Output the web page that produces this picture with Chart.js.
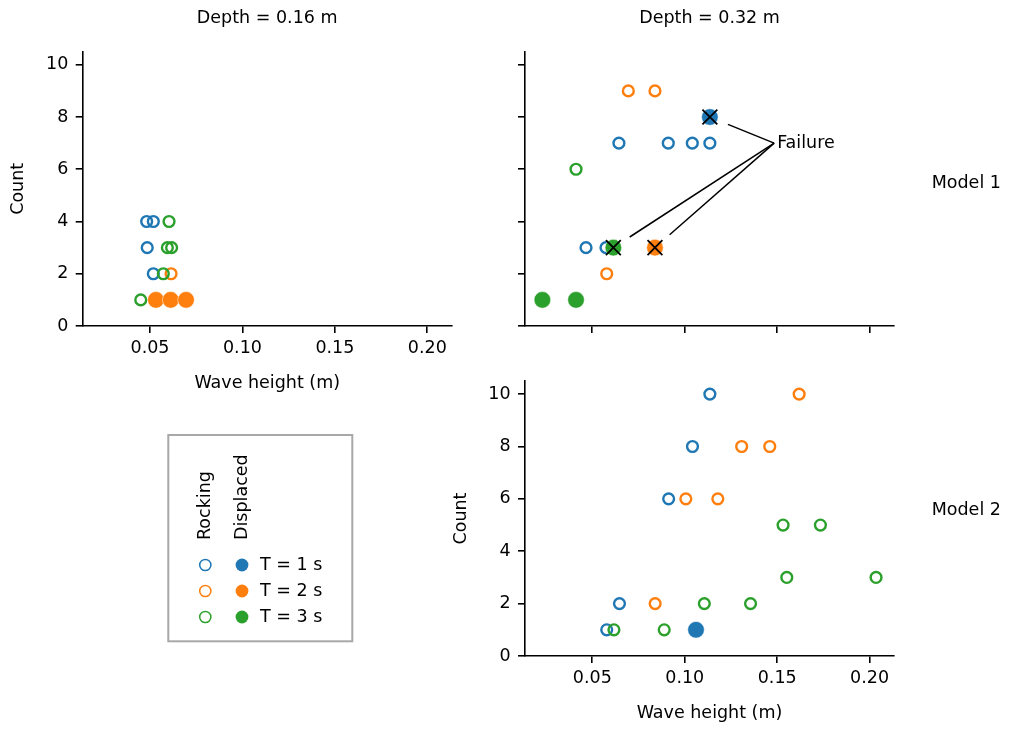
<!DOCTYPE html>
<html>
<head>
<meta charset="utf-8">
<title>Wave height vs count</title>
<script src="https://cdn.jsdelivr.net/npm/chart.js@4.4.1/dist/chart.umd.min.js"></script>
<style>
  body { margin: 0; background: #fff; }
  #fig { position: relative; width: 1011px; height: 729px; }
  #fig canvas { position: absolute; left: 0; top: 0; }
</style>
</head>
<body>
<div id="fig">
  <canvas id="m1d16" width="1011" height="729"></canvas>
  <canvas id="m1d32" width="1011" height="729"></canvas>
  <canvas id="m2d32" width="1011" height="729"></canvas>
</div>
<script>
// ---- data ----
const periods = ["T = 1 s", "T = 2 s", "T = 3 s"];
const colors = ["#1f77b4", "#ff7f0e", "#2ca02c"];
const xTicks = [0.05, 0.10, 0.15, 0.20];
const yTicks = [0, 2, 4, 6, 8, 10];
const xMin = 0.0136, xMax = 0.2132;
const yMin = 0, yMax = 10.5;

// Model 1, depth 0.16 m  (one inner array per period)
const m1d16RockX = [[0.0482, 0.0518, 0.0485, 0.0518], [0.0614], [0.0603, 0.0594, 0.0617, 0.0572, 0.0450]];
const m1d16RockY = [[4, 4, 3, 2], [2], [4, 3, 3, 2, 1]];
const m1d16DispX = [[], [0.0532, 0.0612, 0.0695], []];
const m1d16DispY = [[], [1, 1, 1], []];

// Model 1, depth 0.32 m
const m1d32RockX = [[0.0644, 0.0911, 0.1041, 0.1136, 0.0466, 0.0574], [0.0695, 0.0839, 0.0578], [0.0412]];
const m1d32RockY = [[7, 7, 7, 7, 3, 3], [9, 9, 2], [6]];
const m1d32DispX = [[0.1136], [0.0839], [0.0614, 0.0230, 0.0412]];
const m1d32DispY = [[8], [3], [3, 1, 1]];
const m1d32FailX = [0.1136, 0.0614, 0.0839];
const m1d32FailY = [8, 3, 3];
const failText = "Failure";
const failTextX = 0.15, failTextY = 7;

// Model 2, depth 0.32 m
const m2d32RockX = [[0.1136, 0.1042, 0.0913, 0.0647, 0.0578],
                    [0.1619, 0.1308, 0.1460, 0.1006, 0.1179, 0.0840],
                    [0.1532, 0.1734, 0.1552, 0.2035, 0.1106, 0.1356, 0.0617, 0.0889]];
const m2d32RockY = [[10, 8, 6, 2, 1], [10, 8, 8, 6, 6, 2], [5, 5, 3, 3, 2, 2, 1, 1]];
const m2d32DispX = [[0.1061], [], []];
const m2d32DispY = [[1], [], []];

// ---- styling ----
Chart.defaults.font.family = "'DejaVu Sans', sans-serif";
Chart.defaults.font.size = 17.5;
Chart.defaults.color = "#000";
const FONT = "17.5px 'DejaVu Sans', sans-serif";

function toPts(xs, ys) {
  return xs.map((x, i) => ({ x: x, y: ys[i] }));
}

function makeSets(rockX, rockY, dispX, dispY, failX, failY) {
  const sets = [];
  // chart.js paints the first dataset on top, so the list runs top -> bottom
  if (failX) {
    sets.push({ data: toPts(failX, failY), pointStyle: "crossRot", radius: 10.5,
      borderColor: "#000", backgroundColor: "#000", borderWidth: 1.8 });
  }
  for (let i = 2; i >= 0; i--) {
    sets.push({ data: toPts(dispX[i], dispY[i]), pointStyle: "circle", radius: 8.3,
      backgroundColor: colors[i], borderColor: "#fff", borderWidth: 0.5 });
    sets.push({ data: toPts(rockX[i], rockY[i]), pointStyle: "circle", radius: 5.4,
      backgroundColor: "rgba(255,255,255,0)", borderColor: colors[i], borderWidth: 2.4 });
  }
  return sets;
}

function axes(o) {
  const grid = { drawOnChartArea: false, tickLength: 7, color: "#000", lineWidth: 1.6 };
  const border = { color: "#000", width: 1.6 };
  return {
    x: {
      type: "linear", min: xMin, max: xMax,
      afterBuildTicks: s => { s.ticks = xTicks.map(v => ({ value: v })); },
      afterFit: s => { s.height = o.xh; },
      grid: grid, border: border,
      ticks: { display: o.labels, padding: 5, maxRotation: 0, autoSkip: false,
               callback: v => v.toFixed(2) },
      title: { display: o.labels, text: "Wave height (m)", padding: 0 }
    },
    y: {
      type: "linear", min: yMin, max: yMax,
      afterBuildTicks: s => { s.ticks = yTicks.map(v => ({ value: v })); },
      afterFit: s => { s.width = o.yw; },
      grid: grid, border: border,
      ticks: { display: o.labels, padding: 7.4, autoSkip: false, callback: v => String(v) },
      title: { display: o.labels, text: "Count", padding: 0 }
    }
  };
}

// panel title above, row label on the right
const panelText = {
  id: "panelText",
  afterDraw(chart, args, opts) {
    const a = chart.chartArea, ctx = chart.ctx;
    ctx.save();
    ctx.fillStyle = "#000";
    ctx.font = FONT;
    ctx.textBaseline = "middle";
    if (opts.title) {
      ctx.textAlign = "center";
      ctx.fillText(opts.title, (a.left + a.right) / 2, a.top - 33.2);
    }
    if (opts.row) {
      ctx.textAlign = "left";
      ctx.fillText(opts.row, a.right + 37.7, (a.top + a.bottom) / 2 + opts.rowDy);
    }
    ctx.restore();
  }
};

// "Failure" annotation lines
const failNote = {
  id: "failNote",
  afterDatasetsDraw(chart) {
    const sx = chart.scales.x, sy = chart.scales.y, ctx = chart.ctx;
    const tx = sx.getPixelForValue(failTextX), ty = sy.getPixelForValue(failTextY);
    ctx.save();
    ctx.strokeStyle = "#000";
    ctx.lineWidth = 1.5;
    m1d32FailX.forEach((fx, i) => {
      const px = sx.getPixelForValue(fx), py = sy.getPixelForValue(m1d32FailY[i]);
      const dx = px - (tx - 3), dy = py - ty, len = Math.hypot(dx, dy);
      const k = (len - 19.5) / len;
      ctx.beginPath();
      ctx.moveTo(tx - 3, ty);
      ctx.lineTo(tx - 3 + dx * k, ty + dy * k);
      ctx.stroke();
    });
    ctx.fillStyle = "#000";
    ctx.font = FONT;
    ctx.textAlign = "left";
    ctx.textBaseline = "middle";
    ctx.fillText(failText, tx, ty);
    ctx.restore();
  }
};

// legend in the empty lower-left slot
const legendBox = {
  id: "legendBox",
  afterDraw(chart) {
    const ctx = chart.ctx;
    const bx = 168.3, by = 435, bw = 184, bh = 206.3;
    const c1 = 205.3, c2 = 242, tx = 260, rows = [565, 591, 617];
    ctx.save();
    ctx.strokeStyle = "#a8a8a8";
    ctx.lineWidth = 2;
    ctx.strokeRect(bx, by, bw, bh);

    ctx.fillStyle = "#000";
    ctx.font = FONT;
    ctx.textBaseline = "middle";
    ctx.textAlign = "left";
    [["Rocking", c1], ["Displaced", c2]].forEach(([t, x]) => {
      ctx.save();
      ctx.translate(x, 540);
      ctx.rotate(-Math.PI / 2);
      ctx.fillText(t, 0, 0);
      ctx.restore();
    });

    periods.forEach((p, i) => {
      const y = rows[i];
      ctx.fillStyle = "rgba(255,255,255,0)";
      ctx.strokeStyle = colors[i];
      ctx.lineWidth = 1.5;
      Chart.helpers.drawPoint(ctx, { pointStyle: "circle", radius: 5.6, borderWidth: 1.5 }, c1, y);
      ctx.fillStyle = colors[i];
      Chart.helpers.drawPoint(ctx, { pointStyle: "circle", radius: 6.4, borderWidth: 0 }, c2, y);
      ctx.fillStyle = "#000";
      ctx.fillText(p, tx, y);
    });
    ctx.restore();
  }
};

function makeChart(id, sets, o, plugins, pluginOpts) {
  return new Chart(document.getElementById(id), {
    type: "scatter",
    data: { datasets: sets },
    options: {
      responsive: false,
      animation: false,
      events: [],
      layout: { autoPadding: false, padding: o.pad },
      scales: axes(o),
      plugins: Object.assign({ legend: { display: false }, tooltip: { enabled: false } }, pluginOpts)
    },
    plugins: plugins
  });
}

makeChart("m1d16",
  makeSets(m1d16RockX, m1d16RockY, m1d16DispX, m1d16DispY),
  { labels: true, yw: 74.7, xh: 67.5, pad: { left: 8, top: 51.7, right: 559.3, bottom: 335.5 } },
  [panelText, legendBox],
  { panelText: { title: "Depth = 0.16 m" } });

makeChart("m1d32",
  makeSets(m1d32RockX, m1d32RockY, m1d32DispX, m1d32DispY, m1d32FailX, m1d32FailY),
  { labels: false, yw: 20, xh: 20, pad: { left: 505, top: 51.7, right: 117, bottom: 383 } },
  [panelText, failNote],
  { panelText: { title: "Depth = 0.32 m", row: "Model 1", rowDy: -5.6 } });

makeChart("m2d32",
  makeSets(m2d32RockX, m2d32RockY, m2d32DispX, m2d32DispY),
  { labels: true, yw: 74.5, xh: 67.5, pad: { left: 450.5, top: 381, right: 117, bottom: 5.5 } },
  [panelText],
  { panelText: { row: "Model 2", rowDy: -7.8 } });
</script>
</body>
</html>
